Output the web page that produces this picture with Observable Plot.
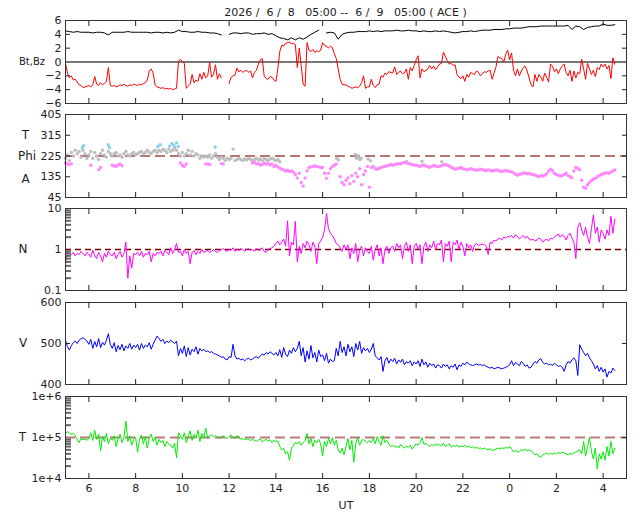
<!DOCTYPE html>
<html><head><meta charset="utf-8">
<script src="https://cdn.jsdelivr.net/npm/d3@7"></script>
<script src="https://cdn.jsdelivr.net/npm/@observablehq/plot@0.6"></script>
<style>
body{margin:0;background:#fff;}
#chart{position:relative;width:640px;height:512px;font-family:"DejaVu Sans",sans-serif;font-size:11px;color:#222;overflow:hidden;}
#chart svg{position:absolute;left:0;}
.lab{position:absolute;white-space:pre;line-height:1;}
</style></head><body><div id="chart"></div>
<script>
// ---------------- data ----------------
const titleText = "2026 /  6 /  8   05:00 --  6 /  9   05:00 ( ACE )";
const startHour = 5;            // 05:00 UT 2026-06-08
const step5 = 5 / 60, step10 = 10 / 60;

const xTicks = [6, 8, 10, 12, 14, 16, 18, 20, 22, 24, 26, 28];
const xTickLabels = ["6", "8", "10", "12", "14", "16", "18", "20", "22", "0", "2", "4"];

const bzTicks = [-6, -4, -2, 0, 2, 4, 6];
const phiTicks = [45, 135, 225, 315, 405];
const nTicks = [0.1, 1, 10];
const nTickLabels = ["0.1", "1", "10"];
const nMinor = [0.2, 0.3, 0.4, 0.5, 0.6, 0.7, 0.8, 0.9, 2, 3, 4, 5, 6, 7, 8, 9];
const vTicks = [400, 500, 600];
const tTicks = [1e4, 1e5, 1e6];
const tTickLabels = ["1e+4", "1e+5", "1e+6"];
const tMinor = [2e4, 3e4, 4e4, 5e4, 6e4, 7e4, 8e4, 9e4, 2e5, 3e5, 4e5, 5e5, 6e5, 7e5, 8e5, 9e5];

// Bt (nT), 10-minute values from 05:00
const bt = [
 4.5,4.4,4.3,4.4,4.3,4.3, 4.3,4.2,4.3,4.3,4.2,3.9, 4.3,4.3,4.3,4.3,4.4,4.3, 4.3,4.3,4.3,4.3,4.2,4.3,
 4.3,4.2,4.3,4.2,4.3,4.6, 4.4,4.4,4.3,4.3,4.4,4.3, 4.3,4.2,4.2,4.1,3.9,null, 4.0,4.2,4.2,4.1,4.2,4.2,
 4.0,4.1,4.1,4.2,4.0,4.1, 3.8,3.5,3.4,3.2,3.5,3.2, 3.5,3.3,3.6,4.0,4.3,4.6, null,4.2,4.3,4.2,3.3,4.0,
 4.2,4.3,4.3,4.4,4.4,4.4, 4.5,4.4,4.5,4.4,4.5,4.5, 4.5,4.6,4.5,4.5,4.6,4.5, 4.5,4.4,4.5,4.4,4.4,4.5,
 4.4,4.5,4.4,4.3,4.2,4.3, 4.4,4.4,4.5,4.4,4.5,4.6, 4.6,4.6,4.7,4.7,4.7,4.8, 4.8,4.9,4.9,4.9,5.0,5.1,
 5.1,5.1,5.2,5.2,5.2,5.2, 5.2,5.2,5.2,5.3,4.7,5.2, 5.1,4.7,5.0,5.1,5.2,5.2, 5.5,5.3,5.3,5.4
];

// Bz (nT), 5-minute values from 05:00
const bz = [
 -0.2,-1.6,-2.3,-2.0,-2.6,-2.5,-2.9,-3.3,-3.4,-3.7,-3.6,-3.5,   // 05
 -3.4,-3.6,-3.3,-2.1,-3.2,-3.4,-3.0,-3.3,-3.1,-2.8,-0.8,-3.4,   // 06
 -3.5,-3.4,-3.6,-3.5,-3.3,-3.4,-3.2,-3.4,-3.5,-3.3,-3.4,-3.2,   // 07
 -3.3,-3.4,-3.2,-3.3,-3.1,-3.0,-2.6,-1.3,-1.0,-1.6,-3.3,-3.6,   // 08
 -3.7,-3.8,-3.7,-3.9,-3.8,-3.9,-3.8,-4.0,-3.9,-3.8,0.1,0.4,     // 09
 0.1,-0.2,-3.8,-3.5,-3.2,-1.8,-3.0,-2.6,-2.8,-1.7,-2.5,-1.5,    // 10
 -2.3,-2.0,-0.1,-2.2,-1.8,-0.4,-2.5,-1.7,-2.3,null,null,null,   // 11
 -3.1,-2.2,-2.0,-1.9,-0.9,-1.4,-1.2,-1.5,-1.3,-1.2,-1.5,-1.3,   // 12
 -2.3,-1.5,-1.2,-0.3,0.3,0.5,-2.0,-2.4,-2.5,-2.1,-2.2,-2.6,     // 13
 -2.8,-1.0,1.5,2.4,2.3,2.7,2.8,2.9,2.6,2.7,2.5,-0.8,            // 14
 2.0,-0.5,-3.2,-3.5,2.8,1.7,1.5,1.8,1.4,1.6,1.5,1.7,            // 15
 2.8,2.4,2.3,2.0,2.3,2.1,1.2,0.5,-1.0,-2.5,-3.2,-3.3,           // 16
 -3.3,-3.5,-3.6,-3.8,-3.7,-3.6,-3.7,-3.5,-3.0,-2.0,-3.8,-3.6,   // 17
 -3.6,-2.5,-3.4,-3.7,-3.3,-3.2,-2.0,-2.2,-1.6,-1.8,-1.4,-1.5,   // 18
 -1.6,-0.7,-1.8,-1.5,-1.3,-1.7,-1.6,-1.0,-2.5,-0.8,-1.3,-0.5,   // 19
 0.3,0.9,-2.3,-1.0,-1.4,-1.2,-1.0,-0.5,-1.0,-0.6,-1.1,-0.7,     // 20
 -0.3,-0.2,1.4,0.8,0.2,-0.3,-0.2,-0.5,-0.4,-1.8,-2.2,-2.4,      // 21
 -2.0,-2.8,-1.8,-2.2,-1.5,-1.7,-1.8,-1.3,-1.5,-2.0,-1.7,-1.4,   // 22
 -1.5,-1.3,-1.2,-2.5,-1.6,-0.7,0.8,0.6,0.5,0.0,1.1,1.7,         // 23
 0.3,1.3,-1.2,-2.0,-1.0,-2.0,-1.3,-0.8,-0.6,-1.3,-2.3,-3.3,     // 00
 -3.6,-1.8,-2.8,-1.8,-2.2,-2.8,-1.6,-2.2,-2.9,-0.3,-0.6,-1.4,   // 01
 -1.0,-1.7,-1.0,-0.6,-0.3,-1.5,-2.0,-1.2,-2.8,-1.3,-2.3,-1.5,   // 02
 -1.7,0.4,-1.0,-2.5,-0.2,-1.0,-1.8,-1.2,-2.1,-0.8,-1.1,-0.3,    // 03
 -0.7,-0.3,-1.0,-0.5,-2.4,0.6,-0.3                              // 04
];

// Phi (deg), grey points, 5-minute values from 05:00 to 14:10
const phiGrey = [
 215,230,205,240,225,250,235,245,220,250,235,215,
 230,245,215,240,225,210,235,250,230,220,245,235,
 225,235,240,225,230,220,235,245,230,225,235,240,
 230,235,240,245,235,240,250,240,235,245,250,240,
 250,245,255,250,240,255,245,250,260,250,235,225,
 240,225,235,250,230,245,225,235,230,215,225,220,
 225,220,230,215,225,235,220,210,220,215,205,215,
 210,215,255,205,210,215,210,205,212,208,215,210,
 205,210,215,208,212,205,215,210,205,212,215,210,
 205,210,200
];
// later scattered grey points: [hour, deg]
const phiGreyLate = [[16.6,215],[16.67,208],[17.4,232],[17.45,215],[17.5,226],[17.55,218],[17.6,210],
 [17.65,216],[17.95,212],[18.05,204],[19.6,200],[20.25,202],[21.1,200]];
// light-blue points: [hour, deg]
const phiBlue = [[5.72,262],[5.78,270],[6.83,274],[6.88,262],[8.95,266],[9.05,274],[9.45,268],
 [9.55,278],[9.65,270],[9.75,282],[9.82,266],[11.4,264]];
// Phi (deg), magenta points, 5-minute values from 05:00
const phiMag = [
 195,190,188,192,null,null,null,null,null,null,null,null,   // 05
 null,185,null,null,null,165,175,null,null,null,null,null,  // 06
 185,182,180,186,190,183,null,null,null,null,null,null,     // 07
 null,null,null,null,null,null,null,null,null,null,null,null, // 08
 null,null,null,null,null,null,null,null,null,null,null,195,  // 09
 185,180,190,null,null,null,null,null,null,null,null,null,  // 10
 190,192,188,null,null,null,null,null,192,190,null,null,    // 11
 null,null,null,null,null,null,null,null,null,null,null,null, // 12
 195,198,190,192,186,188,195,190,192,186,190,180,  // 13
 185,178,172,168,165,160,163,158,160,155,145,130,  // 14
 150,110,95,130,160,175,178,180,182,180,178,175,   // 15
 175,150,128,150,170,180,185,190,null,135,110,100, // 16
 120,130,105,140,115,150,135,170,100,145,160,180,  // 17
 90,175,180,170,168,172,175,178,180,182,185,188,   // 18
 185,188,190,192,190,195,198,196,192,190,188,186,  // 19
 185,182,180,184,186,182,178,176,180,184,182,178,  // 20
 180,184,186,188,185,182,176,172,168,170,172,175,  // 21
 170,168,165,168,170,168,165,163,165,168,166,163,  // 22
 162,165,163,160,162,165,163,160,158,160,162,160,  // 23
 158,156,152,146,142,145,148,152,150,148,150,146,  // 00
 145,142,138,136,140,138,142,148,160,168,162,150,  // 01
 145,142,138,140,145,150,140,135,130,160,175,172,  // 02
 165,120,90,85,100,110,118,125,128,135,140,145,    // 03
 148,150,152,150,155,160,165                       // 04
];

// N (/cc), 5-minute values from 05:00
const dens = [
 0.45,0.9,0.8,0.75,0.85,0.7,0.8,0.75,0.9,0.8,0.7,0.85,
 0.75,0.65,0.95,0.7,0.6,0.85,0.7,0.5,0.8,0.65,0.9,0.75,
 0.7,0.85,0.6,0.75,0.9,0.65,0.8,1.5,0.2,0.7,0.35,0.8,
 0.75,0.85,0.7,0.9,0.65,0.8,0.75,0.9,0.5,0.8,0.7,0.85,
 0.8,0.9,0.7,0.95,0.85,0.75,1.1,0.8,1.0,1.4,0.85,0.9,
 0.7,1.0,0.8,0.9,0.45,0.85,0.95,0.75,0.9,0.8,1.0,0.85,
 0.9,0.95,0.85,0.9,1.0,0.9,0.85,0.95,1.0,1.05,0.95,0.9,
 1.0,0.95,1.1,0.9,1.0,0.95,1.05,1.0,0.9,1.0,1.05,0.95,
 1.0,0.9,1.05,0.95,1.0,1.1,0.9,0.85,1.0,1.05,1.1,1.2,
 1.4,1.6,1.3,1.5,1.8,1.2,5.0,0.7,1.5,1.3,4.8,0.5,
 1.2,0.8,1.4,1.1,1.6,1.3,0.9,1.5,1.2,0.45,1.4,1.6,
 2.0,3.0,7.5,3.2,2.5,2.2,1.8,1.4,1.3,1.1,0.9,1.3,
 1.0,1.3,0.6,1.1,0.8,1.4,0.5,1.0,1.2,0.7,1.1,0.9,
 0.8,1.2,0.55,1.0,1.3,0.7,1.1,0.45,1.0,1.2,0.8,1.1,
 1.2,0.9,1.4,1.1,1.3,0.6,1.2,1.5,0.9,1.3,0.45,1.2,
 1.4,1.0,1.3,0.45,1.2,1.5,0.9,1.3,1.1,1.6,1.0,1.4,
 1.3,1.7,0.5,1.4,1.2,1.6,0.5,1.5,1.3,1.7,1.0,1.5,
 1.2,0.7,1.4,1.1,1.3,0.9,1.3,1.4,1.25,1.3,1.35,1.3,
 1.2,0.75,1.5,1.4,1.7,1.6,1.8,1.9,1.7,2.0,1.9,2.1,
 2.0,2.2,1.9,2.3,2.1,1.8,2.0,2.2,1.9,2.1,1.8,1.7,
 1.8,1.6,1.7,1.9,1.8,1.5,1.7,1.8,1.6,1.9,1.8,2.0,
 2.2,2.4,2.0,2.3,2.1,1.7,2.2,2.5,1.9,1.5,0.6,3.5,
 4.5,3.0,2.2,3.5,2.0,1.4,3.2,7.0,2.5,3.5,1.5,3.0,
 2.5,1.8,3.0,2.2,6.5,2.5,5.5
];

// V (km/s), 5-minute values from 05:00
const vel = [
 508,492,484,495,502,506,500,508,512,514,510,506,
 498,510,488,505,492,512,490,503,496,508,524,498,
 488,502,480,495,485,498,482,494,488,500,486,496,
 490,498,484,500,488,496,492,502,486,498,508,518,
 512,505,510,500,506,502,508,504,500,506,470,488,
 476,494,468,490,472,486,480,492,474,488,482,486,
 480,482,478,480,476,474,472,470,466,468,462,460,
 468,466,498,470,462,464,460,462,458,462,464,460,
 462,466,468,464,470,474,472,478,474,480,476,472,
 478,470,485,466,490,474,468,484,476,490,480,488,
 505,470,490,455,482,462,495,465,478,455,484,468,
 472,458,476,452,462,456,458,488,470,505,478,492,
 470,498,480,492,468,500,484,505,476,490,482,488,
 478,486,500,470,465,460,468,432,458,466,452,462,
 456,464,450,460,454,462,448,456,452,458,446,455,
 450,458,444,462,448,455,442,452,446,450,440,448,
 446,440,450,444,448,438,446,442,450,436,448,444,
 452,448,455,450,448,446,448,450,447,449,446,448,
 444,442,440,442,438,440,442,440,438,440,442,444,
 448,458,446,454,450,446,456,452,444,448,440,442,
 450,456,452,460,463,454,450,452,448,450,446,452,
 448,444,446,442,432,448,456,452,460,465,458,422,
 497,486,478,470,476,465,458,450,438,446,432,442,
 430,438,418,432,428,440,434
];

// T (thousands of K), 5-minute values from 05:00
const tempKilo = [
 125,140,130,120,125,110,90,75,95,88,92,85,
 95,130,85,150,90,120,47,105,80,125,70,95,
 85,110,60,95,120,75,100,250,80,110,65,90,
 100,44,90,115,70,105,55,95,120,80,100,65,
 90,75,85,60,80,70,65,55,72,32,130,110,
 90,130,75,110,145,85,120,95,150,80,125,100,
 170,95,110,115,105,110,100,95,105,110,100,95,
 105,115,100,95,110,105,90,95,88,92,90,85,
 90,85,80,88,92,78,85,90,82,88,75,85,
 80,82,60,50,55,40,45,28,55,65,75,70,
 80,65,75,85,125,70,95,60,85,75,90,70,
 35,80,60,95,70,100,65,85,50,42,55,38,
 60,95,50,85,25,70,100,65,85,90,80,75,
 85,75,95,70,105,80,65,110,75,85,70,60,
 65,58,62,55,68,60,55,62,58,65,52,60,
 70,65,75,100,68,72,65,60,68,62,70,65,
 68,62,72,60,65,70,58,64,60,66,58,62,
 60,64,58,62,56,60,55,58,54,56,52,55,
 52,50,54,48,50,52,55,53,56,54,57,55,
 60,52,45,48,44,46,50,48,52,47,50,48,
 42,38,40,35,33,38,40,42,38,41,39,42,
 40,43,41,44,42,40,38,41,39,42,44,47,
 50,40,80,35,60,100,45,30,55,17,40,30,
 45,28,60,35,80,40,55
];

// ---------------- build ----------------
const series = (arr, step) => arr.map((v, i) => ({t: startHour + i * step, v}));
const pairs = (arr) => arr.map(([t, v]) => ({t, v}));

const chart = document.getElementById("chart");
const W = 640, ML = 65, MR = 14, MT = 7, MB = 7;
const frameTop = [20, 114, 208, 302, 396];
const frameH = [83, 83, 82, 82, 82];
const font = {fontFamily: '"DejaVu Sans", sans-serif', fontSize: "11px", color: "#222", background: "transparent", overflow: "visible"};
const blank = () => "";

function innerTicks(values) {
  return [
    Plot.axisY(values, {anchor: "left", tickSize: 5, dx: 5, tickFormat: blank, label: null}),
    Plot.axisY(values, {anchor: "right", tickSize: 5, dx: -5, tickFormat: blank, label: null})
  ];
}
function xTickMarks() {
  return [
    Plot.axisX(xTicks, {anchor: "bottom", tickSize: 5, dy: -5, tickFormat: blank, label: null}),
    Plot.axisX(xTicks, {anchor: "top", tickSize: 5, dy: 5, tickFormat: blank, label: null})
  ];
}
function panel(i, yOpts, marks, extraBottom = 0) {
  const svg = Plot.plot({
    width: W, height: frameH[i] + MT + MB + extraBottom,
    marginLeft: ML, marginRight: MR, marginTop: MT, marginBottom: MB + extraBottom,
    x: {domain: [5, 29], axis: null, label: null},
    y: {...yOpts, axis: null, label: null},
    style: font,
    marks: [...marks, ...xTickMarks(), Plot.frame({stroke: "#333"})]
  });
  svg.style.top = (frameTop[i] - MT) + "px";
  chart.append(svg);
}
function label(text, x, y, size = 11) {
  const d = document.createElement("div");
  d.className = "lab";
  d.textContent = text;
  d.style.left = x + "px";
  d.style.top = y + "px";
  d.style.fontSize = size + "px";
  d.style.transform = "translate(-50%,-50%)";
  chart.append(d);
}

// Panel 1: Bt, Bz
panel(0, {domain: [-6, 6]}, [
  Plot.ruleY([0], {stroke: "#777", strokeWidth: 2}),
  Plot.line(series(bt, step10), {x: "t", y: "v", stroke: "#000", strokeWidth: 1}),
  Plot.line(series(bz, step5), {x: "t", y: "v", stroke: "#ff0000", strokeWidth: 1}),
  Plot.axisY(bzTicks, {anchor: "left", tickSize: 0, tickPadding: 4, label: null}),
  ...innerTicks([-4, -2, 2, 4])
]);

// Panel 2: Phi
panel(1, {domain: [45, 405]}, [
  Plot.ruleY([225], {stroke: "#b87373", strokeWidth: 2, strokeDasharray: "10,5"}),
  Plot.dot(series(phiGrey, step5), {x: "t", y: "v", r: 1.7, fill: "#bdbdbd"}),
  Plot.dot(pairs(phiGreyLate), {x: "t", y: "v", r: 1.7, fill: "#bdbdbd"}),
  Plot.dot(series(phiMag, step5), {x: "t", y: "v", r: 1.7, fill: "#ff88ff"}),
  Plot.dot(pairs(phiBlue), {x: "t", y: "v", r: 1.7, fill: "#87cfee"}),
  Plot.axisY(phiTicks, {anchor: "left", tickSize: 0, tickPadding: 4, label: null}),
  ...innerTicks([135, 225, 315])
]);

// Panel 3: N
panel(2, {type: "log", domain: [0.1, 10]}, [
  Plot.ruleY([1], {stroke: "#7a0000", strokeWidth: 1.3, strokeDasharray: "6,4"}),
  Plot.line(series(dens, step5), {x: "t", y: "v", stroke: "#ff00ff", strokeWidth: 1}),
  Plot.axisY(nTicks, {anchor: "left", tickSize: 0, tickPadding: 4, label: null, tickFormat: d => nTickLabels[nTicks.indexOf(d)]}),
  Plot.axisY(nMinor, {anchor: "left", tickSize: 6, dx: 6, stroke: "#666", strokeWidth: 2, tickFormat: blank, label: null})
]);

// Panel 4: V
panel(3, {domain: [400, 600]}, [
  Plot.line(series(vel, step5), {x: "t", y: "v", stroke: "#0000ff", strokeWidth: 1}),
  Plot.axisY(vTicks, {anchor: "left", tickSize: 0, tickPadding: 4, label: null}),
  ...innerTicks([500])
]);

// Panel 5: T
panel(4, {type: "log", domain: [1e4, 1e6]}, [
  Plot.ruleY([1e5], {stroke: "#bb7b7b", strokeWidth: 2, strokeDasharray: "10,5"}),
  Plot.line(series(tempKilo, step5), {x: "t", y: d => d.v * 1000, stroke: "#00ee00", strokeWidth: 1}),
  Plot.axisY(tTicks, {anchor: "left", tickSize: 0, tickPadding: 4, label: null, tickFormat: d => tTickLabels[tTicks.indexOf(d)]}),
  Plot.axisY(tMinor, {anchor: "left", tickSize: 6, dx: 6, stroke: "#666", strokeWidth: 2, tickFormat: blank, label: null}),
  Plot.axisY([1e5], {anchor: "right", tickSize: 5, dx: -5, tickFormat: blank, label: null}),
  Plot.axisX(xTicks, {anchor: "bottom", tickSize: 0, tickPadding: 6, label: null, tickFormat: d => xTickLabels[xTicks.indexOf(d)]})
], 30);

// texts
label(titleText, 345.5, 12);
label("Bt,Bz", 32, 62, 10);
label("T", 25.5, 135, 12);
label("Phi", 27, 156, 12);
label("A", 25.5, 179, 12);
label("N", 23, 249, 12);
label("V", 23, 343, 12);
label("T", 22.5, 437, 12);
label("UT", 346, 505);
</script></body></html>
